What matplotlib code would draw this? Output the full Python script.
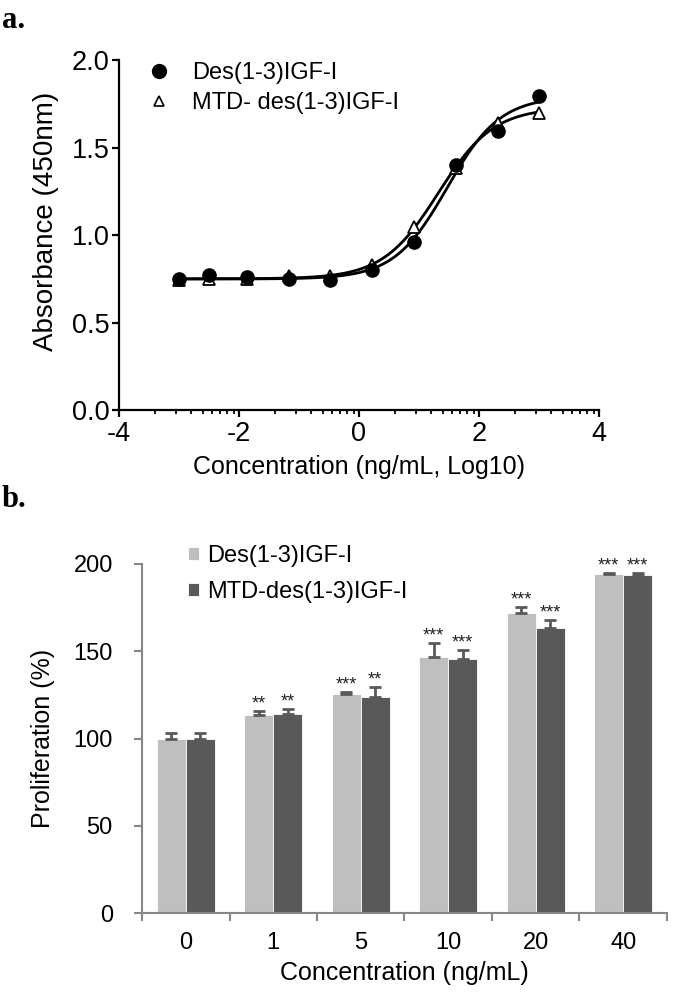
import numpy as np
import matplotlib
matplotlib.use("Agg")
import matplotlib.pyplot as plt
from matplotlib.ticker import FixedLocator, FormatStrFormatter
from matplotlib.lines import Line2D

plt.rcParams['font.family'] = ['Liberation Sans', 'DejaVu Sans']
plt.rcParams['axes.unicode_minus'] = False

# ---------------- Data: panel a ----------------
log_conc = [-3.0, -2.5, -1.87, -1.17, -0.48, 0.22, 0.92, 1.62, 2.32, 3.0]
abs_des = [0.750, 0.770, 0.760, 0.747, 0.743, 0.800, 0.962, 1.400, 1.596, 1.796]
abs_mtd = [0.742, 0.748, 0.750, 0.768, 0.765, 0.830, 1.046, 1.385, 1.640, 1.695]
label_des_a = "Des(1-3)IGF-I"
label_mtd_a = "MTD- des(1-3)IGF-I"

# ---------------- Data: panel b ----------------
categories = ["0", "1", "5", "10", "20", "40"]
prolif_des = [100.0, 113.6, 125.5, 146.9, 171.7, 194.3]
err_des = [2.9, 2.0, 1.3, 8.0, 3.8, 0.5]
prolif_mtd = [100.0, 114.0, 123.8, 145.4, 163.5, 193.5]
err_mtd = [2.9, 2.9, 5.9, 5.5, 4.2, 1.2]
sig_des = ["", "**", "***", "***", "***", "***"]
sig_mtd = ["", "**", "**", "***", "***", "***"]
label_des_b = "Des(1-3)IGF-I"
label_mtd_b = "MTD-des(1-3)IGF-I"


def four_pl(x, bottom, top, logec50, hill):
    return bottom + (top - bottom) / (1.0 + 10 ** ((logec50 - x) * hill))


def fit_4pl(x, y):
    x = np.asarray(x)
    y = np.asarray(y)
    best = None
    for le in np.linspace(0.0, 2.5, 251):
        for h in np.linspace(0.4, 2.5, 211):
            s = 1.0 / (1.0 + 10 ** ((le - x) * h))
            A = np.column_stack([1 - s, s])
            coef, *_ = np.linalg.lstsq(A, y, rcond=None)
            r = np.sum((A @ coef - y) ** 2)
            if best is None or r < best[0]:
                best = (r, coef[0], coef[1], le, h)
    return best[1:]


fig = plt.figure(figsize=(6.85, 9.98), dpi=100)

# ---------------- Panel a ----------------
axa = fig.add_axes([119 / 685, 1 - 410 / 998, 480 / 685, 350 / 998])
xs = np.linspace(min(log_conc), max(log_conc), 400)
for yv in (abs_des, abs_mtd):
    p = fit_4pl(log_conc, yv)
    axa.plot(xs, four_pl(xs, *p), color='black', lw=2.0, zorder=2)
axa.plot(log_conc, abs_mtd, linestyle='none', marker='^', markersize=9,
         markerfacecolor='white', markeredgecolor='black', markeredgewidth=1.3, zorder=3)
axa.plot(log_conc, abs_des, linestyle='none', marker='o', markersize=9.5,
         color='black', zorder=4)
axa.set_xlim(-4, 4)
axa.set_ylim(0, 2.0)
axa.spines['top'].set_visible(False)
axa.spines['right'].set_visible(False)
for s in ('left', 'bottom'):
    axa.spines[s].set_linewidth(1.6)
    axa.spines[s].set_color('black')
axa.xaxis.set_major_locator(FixedLocator([-4, -2, 0, 2, 4]))
minors = [m + 2 * np.log10(k) for m in (-4, -2, 0, 2) for k in range(2, 10)]
axa.xaxis.set_minor_locator(FixedLocator(minors))
axa.yaxis.set_major_locator(FixedLocator([0, 0.5, 1.0, 1.5, 2.0]))
axa.yaxis.set_major_formatter(FormatStrFormatter('%.1f'))
axa.tick_params(axis='both', which='major', direction='out', length=5, width=1.6,
                labelsize=19.5, colors='black')
axa.tick_params(axis='y', which='major', pad=2)
axa.tick_params(axis='x', which='major', pad=3)
axa.tick_params(axis='x', which='minor', direction='out', length=3, width=1.3)
axa.set_xlabel("Concentration (ng/mL, Log10)", fontsize=18, labelpad=6)
axa.set_ylabel("Absorbance (450nm)", fontsize=20)
axa.yaxis.set_label_coords(-0.125, 0.54)

h1 = Line2D([], [], linestyle='none', marker='o', markersize=10, color='black')
h2 = Line2D([], [], linestyle='none', marker='^', markersize=7,
            markerfacecolor='white', markeredgecolor='black', markeredgewidth=1.2)
axa.legend([h1, h2], [label_des_a, label_mtd_a], loc='upper left',
           bbox_to_anchor=(147 / 685, 1 - 62 / 998), bbox_transform=fig.transFigure,
           frameon=False, fontsize=17, handlelength=1.0, handletextpad=0.9,
           labelspacing=0.35, borderaxespad=0, borderpad=0)

# ---------------- Panel b ----------------
axb = fig.add_axes([142 / 685, 1 - 913 / 998, 525 / 685, 349 / 998])
x = np.arange(len(categories))
w = 0.33
light = '#bfbfbf'
dark = '#595959'
axb.bar(x - w / 2, prolif_des, width=w, color=light, edgecolor='white', linewidth=0.6,
        label=label_des_b, zorder=2)
axb.bar(x + w / 2, prolif_mtd, width=w, color=dark, edgecolor='white', linewidth=0.6,
        label=label_mtd_b, zorder=2)
axb.errorbar(x - w / 2, prolif_des, yerr=[np.zeros(len(x)), err_des], fmt='none',
             ecolor=dark, elinewidth=2, capsize=4.5, capthick=2, zorder=3)
axb.errorbar(x + w / 2, prolif_mtd, yerr=[np.zeros(len(x)), err_mtd], fmt='none',
             ecolor=dark, elinewidth=2, capsize=4.5, capthick=2, zorder=3)
for xi, v, e, s in zip(x - w / 2, prolif_des, err_des, sig_des):
    if s:
        axb.annotate(s, (xi, v + e), xytext=(0, -1), textcoords='offset points',
                     ha='center', va='bottom', fontsize=13, color='#222222')
for xi, v, e, s in zip(x + w / 2, prolif_mtd, err_mtd, sig_mtd):
    if s:
        axb.annotate(s, (xi, v + e), xytext=(0, -1), textcoords='offset points',
                     ha='center', va='bottom', fontsize=13, color='#222222')
axb.set_xlim(-0.5, len(categories) - 0.5)
axb.set_ylim(0, 200)
axb.spines['top'].set_visible(False)
axb.spines['right'].set_visible(False)
spine_gray = '#868686'
for s in ('left', 'bottom'):
    axb.spines[s].set_linewidth(1.5)
    axb.spines[s].set_color(spine_gray)
axb.set_xticks(x)
axb.set_xticklabels(categories)
axb.xaxis.set_minor_locator(FixedLocator(np.arange(len(categories) + 1) - 0.5))
axb.yaxis.set_major_locator(FixedLocator([0, 50, 100, 150, 200]))
axb.tick_params(axis='x', which='major', length=0, labelsize=17, pad=14)
axb.tick_params(axis='x', which='minor', direction='out', length=6, width=1.5,
                color=spine_gray)
axb.tick_params(axis='y', which='major', direction='out', length=6, width=1.5,
                color=spine_gray, labelsize=17, pad=15)
axb.set_xlabel("Concentration (ng/mL)", fontsize=18, labelpad=5)
axb.set_ylabel("Proliferation (%)", fontsize=18)
axb.yaxis.set_label_coords(-0.165, 0.5)
axb.legend(loc='upper left', bbox_to_anchor=(188 / 685, 1 - 545 / 998),
           bbox_transform=fig.transFigure, frameon=False, fontsize=17,
           handlelength=0.45, handleheight=0.45, handletextpad=0.35,
           labelspacing=0.6, borderaxespad=0, borderpad=0)

fig.text(2 / 685, 1 - 28 / 998, "a.", fontsize=22, fontweight='bold',
         family=['Liberation Serif', 'DejaVu Serif'], va='baseline', ha='left')
fig.text(2 / 685, 1 - 507 / 998, "b.", fontsize=22, fontweight='bold',
         family=['Liberation Serif', 'DejaVu Serif'], va='baseline', ha='left')

fig.savefig("out.png", dpi=100)
